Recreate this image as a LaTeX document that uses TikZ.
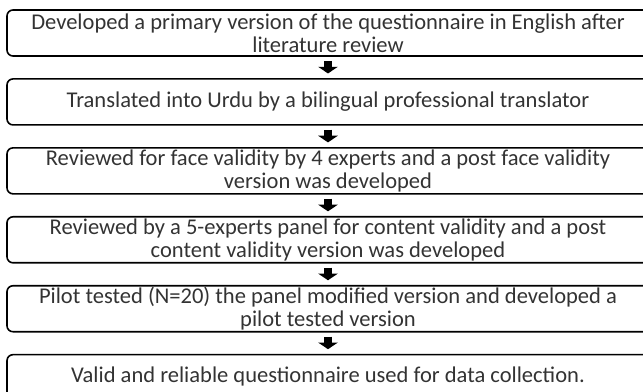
\documentclass[tikz,border=0pt]{standalone}
\usepackage{fontspec}
\setmainfont{Carlito}
\usetikzlibrary{arrows.meta,positioning}

\begin{document}
\begin{tikzpicture}[x=0.75pt, y=-0.75pt, node distance=16pt,
	stepbox/.style={draw=black, line width=1.2pt, rounded corners=4.5pt, minimum width=481.5pt, minimum height=34.5pt, inner ysep=0pt, align=center, text=black!80, font=\fontsize{16.9}{17.2}\selectfont},
	flow/.style={line width=6pt, -{Triangle[width=14.5pt,length=5pt]}, shorten <=3pt, shorten >=3.5pt}]
	\useasboundingbox (0,0) rectangle (643,392);
	\clip (0,0) rectangle (643,392);
	\node[stepbox] (dev) at (328,33) {Developed a primary version of the questionnaire in English after\\literature review};
	\node[stepbox, below=of dev] (urdu) {Translated into Urdu by a bilingual professional translator};
	\node[stepbox, below=of urdu] (face) {Reviewed for face validity by 4 experts and a post face validity\\version was developed};
	\node[stepbox, below=of face] (content) {Reviewed by a 5-experts panel for content validity and a post\\content validity version was developed};
	\node[stepbox, below=of content] (pilot) {Pilot tested (N=20) the panel modified version and developed a\\pilot tested version};
	\node[stepbox, below=of pilot, minimum height=33pt] (final) {Valid and reliable questionnaire used for data collection.};
	\foreach \a/\b in {dev/urdu, urdu/face, face/content, content/pilot, pilot/final}
		{\draw[flow] (\a) -- (\b);}
\end{tikzpicture}
\end{document}
